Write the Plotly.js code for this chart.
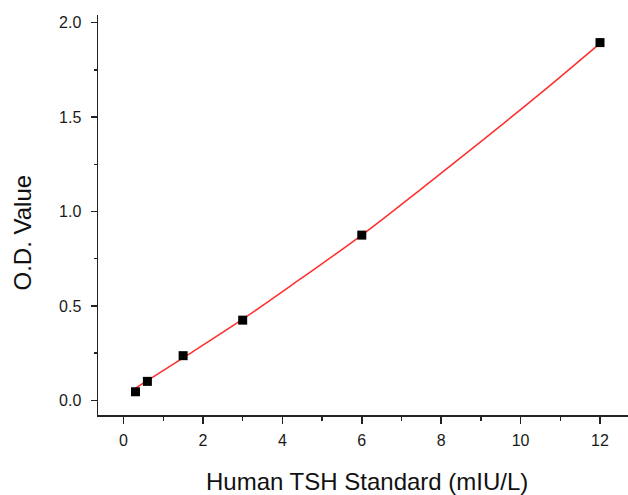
<!DOCTYPE html>
<html>
<head>
<meta charset="utf-8">
<script src="https://cdn.plot.ly/plotly-3.0.1.min.js"></script>
<style>html,body{margin:0;padding:0;background:#fff;}#chart{width:628px;height:495px;}</style>
</head>
<body>
<div id="chart"></div>
<script>
// Standard points
var concentration = [0.3, 0.6, 1.5, 3, 6, 12];
var odValue = [0.046, 0.101, 0.237, 0.425, 0.875, 1.894];
// Fitted curve
var fitX = [0.3, 1.5, 3, 4.5, 6, 7.5, 9, 10.5, 12];
var fitY = [0.065, 0.225, 0.43, 0.65, 0.875, 1.12, 1.37, 1.625, 1.89];
var xTickVals = [0, 2, 4, 6, 8, 10, 12];
var yTickVals = [0.0, 0.5, 1.0, 1.5, 2.0];

var traces = [
  {x: fitX, y: fitY, type: 'scatter', mode: 'lines',
   line: {color: 'rgb(255,45,45)', width: 1.5, shape: 'spline'}, hoverinfo: 'skip'},
  {x: concentration, y: odValue, type: 'scatter', mode: 'markers',
   marker: {symbol: 'square', color: '#000', size: 9, line: {width: 0}}}
];

var tickFont = {family: 'Arial, Liberation Sans, sans-serif', size: 16, color: '#1a1a1a'};
var layout = {
  width: 628, height: 495,
  margin: {l: 98, r: 0, t: 15, b: 80},
  paper_bgcolor: '#fff', plot_bgcolor: '#fff',
  showlegend: false,
  xaxis: {
    range: [-0.644, 12.705], showgrid: false, zeroline: false,
    showline: true, linecolor: '#222', linewidth: 1.5,
    ticks: 'outside', ticklen: 7, tickwidth: 1.5, tickcolor: '#222',
    tickvals: xTickVals, ticktext: xTickVals.map(String),
    tickfont: tickFont, ticklabelstandoff: 3,
    minor: {ticks: 'outside', ticklen: 4, tickwidth: 1.5, tickcolor: '#222', dtick: 1, tick0: 0}
  },
  yaxis: {
    range: [-0.077, 2.04], showgrid: false, zeroline: false,
    showline: true, linecolor: '#222', linewidth: 1.5,
    ticks: 'outside', ticklen: 6, tickwidth: 1.5, tickcolor: '#222',
    tickvals: yTickVals, ticktext: yTickVals.map(function(v){return v.toFixed(1);}),
    tickfont: tickFont, ticklabelstandoff: 6,
    minor: {ticks: 'outside', ticklen: 3, tickwidth: 1.5, tickcolor: '#222', dtick: 0.25, tick0: 0}
  },
  annotations: [
    {text: 'Human TSH Standard (mIU/L)', xref: 'paper', yref: 'paper',
     x: (366.5 - 98) / 530, y: -(481 - 415) / 400, xanchor: 'center', yanchor: 'middle',
     showarrow: false, font: {family: 'Arial, Liberation Sans, sans-serif', size: 24, color: '#111'}},
    {text: 'O.D. Value', xref: 'paper', yref: 'paper', textangle: -90,
     x: -(98 - 22) / 530, y: (415 - 232.5) / 400, xanchor: 'center', yanchor: 'middle',
     showarrow: false, font: {family: 'Arial, Liberation Sans, sans-serif', size: 24, color: '#111'}}
  ]
};
Plotly.newPlot('chart', traces, layout, {displayModeBar: false, staticPlot: true});
</script>
</body>
</html>
